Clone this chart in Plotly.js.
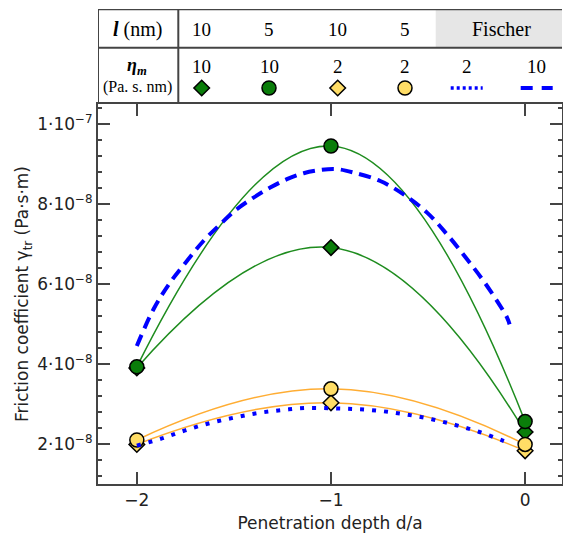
<!DOCTYPE html>
<html>
<head>
<meta charset="utf-8">
<script src="https://cdn.plot.ly/plotly-3.0.1.min.js"></script>
<style>html,body{margin:0;padding:0;background:#fff;}#chart{width:563px;height:544px;}</style>
</head>
<body>
<div id="chart"></div>
<script>
// ---------- data ----------
const depth = [-2, -1, 0];
// friction coefficient (Pa·s·m)
const l10_eta10 = [3.90e-8, 6.91e-8, 2.30e-8];   // green diamond
const l5_eta10  = [3.93e-8, 9.45e-8, 2.56e-8];   // green circle
const l10_eta2  = [1.99e-8, 3.03e-8, 1.83e-8];   // yellow diamond
const l5_eta2   = [2.10e-8, 3.38e-8, 1.99e-8];   // yellow circle

// Fischer theory curves
const fischer10_x = [-2.0, -1.914, -1.828, -1.742, -1.657, -1.571, -1.485, -1.399, -1.313, -1.227, -1.141, -1.055, -0.969, -0.883, -0.746, -0.626, -0.505, -0.402, -0.299, -0.196, -0.093, -0.08];
const fischer10_y = [4.45e-8, 5.37e-8, 6.04e-8, 6.575e-8, 7.075e-8, 7.49e-8, 7.87e-8, 8.16e-8, 8.41e-8, 8.62e-8, 8.77e-8, 8.85e-8, 8.87e-8, 8.785e-8, 8.575e-8, 8.24e-8, 7.785e-8, 7.24e-8, 6.62e-8, 5.95e-8, 5.16e-8, 4.99e-8];
const fischer2_x = [-2.0, -1.871, -1.751, -1.626, -1.499, -1.374, -1.250, -1.124, -0.987, -0.864, -0.735, -0.609, -0.481, -0.355, -0.235, -0.115, -0.08];
const fischer2_y = [1.96e-8, 2.14e-8, 2.34e-8, 2.52e-8, 2.66e-8, 2.775e-8, 2.85e-8, 2.90e-8, 2.89e-8, 2.87e-8, 2.82e-8, 2.735e-8, 2.62e-8, 2.47e-8, 2.30e-8, 2.085e-8, 2.02e-8];

// tick labels
const xTickVals = [-2, -1, 0];
const xTickText = ['\u22122', '\u22121', '0'];
const yTickVals = [2e-8, 4e-8, 6e-8, 8e-8, 1e-7];
const yTickText = ['2\u00b710<sup>\u22128</sup>', '4\u00b710<sup>\u22128</sup>', '6\u00b710<sup>\u22128</sup>', '8\u00b710<sup>\u22128</sup>', '1\u00b710<sup>\u22127</sup>'];

// table contents
const rowLabel1 = '<b><i>l</i></b> (nm)';
const rowLabel2a = '<b><i>\u03b7<sub>m</sub></i></b>';
const rowLabel2b = '(Pa. s. nm)';
const lValues = ['10', '5', '10', '5'];
const fischerLabel = 'Fischer';
const etaValues = ['10', '10', '2', '2', '2', '10'];

// ---------- styles / layout constants ----------
const GREEN = '#0a7d0a', GREEN_LINE = '#1e8c1e';
const YELLOW = '#ffdd66', ORANGE_LINE = '#ffad33';
const BLUE = '#0000ff';
const FRAME = '#444444';
const SANS = 'DejaVu Sans, sans-serif';
const SERIF = 'Liberation Serif, serif';

// table geometry in pixels (x2 / y2 axes are pixel based)
const colX = [201.7, 269, 337.7, 405, 466.7, 536.7];
const hdrX = 137;
const row1Y = 29, row2Y = 66, row2bY = 87, symY = 88;

function seriesTrace(y, symbol, fill, lineColor, size) {
  return {
    x: depth, y: y, type: 'scatter', mode: 'lines+markers',
    line: {color: lineColor, width: 1.5, shape: 'spline', smoothing: 1.3},
    marker: {symbol: symbol, size: size, color: fill, line: {color: '#000', width: 1.5}},
    hoverinfo: 'skip', showlegend: false
  };
}
function keyMarker(cx, symbol, fill, size) {
  return {
    x: [cx], y: [symY], xaxis: 'x2', yaxis: 'y2', type: 'scatter', mode: 'markers',
    marker: {symbol: symbol, size: size, color: fill, line: {color: '#000', width: 1.5}},
    hoverinfo: 'skip', showlegend: false, cliponaxis: false
  };
}
function keyLine(cx, dash, w) {
  return {
    x: [cx - 16, cx + 16], y: [symY, symY], xaxis: 'x2', yaxis: 'y2', type: 'scatter', mode: 'lines',
    line: {color: BLUE, width: w, dash: dash},
    hoverinfo: 'skip', showlegend: false, cliponaxis: false
  };
}

const DASH_LONG = '12px,7px';
const DASH_DOT = '4px,8px';

const traces = [
  seriesTrace(l10_eta10, 'diamond', GREEN, GREEN_LINE, 12),
  seriesTrace(l5_eta10, 'circle', GREEN, GREEN_LINE, 14),
  seriesTrace(l10_eta2, 'diamond', YELLOW, ORANGE_LINE, 12),
  seriesTrace(l5_eta2, 'circle', YELLOW, ORANGE_LINE, 14),
  {x: fischer2_x, y: fischer2_y, type: 'scatter', mode: 'lines',
   line: {color: BLUE, width: 4, dash: DASH_DOT, shape: 'spline'}, hoverinfo: 'skip', showlegend: false},
  {x: fischer10_x, y: fischer10_y, type: 'scatter', mode: 'lines',
   line: {color: BLUE, width: 4, dash: DASH_LONG, shape: 'spline'}, hoverinfo: 'skip', showlegend: false},
  keyMarker(colX[0], 'diamond', GREEN, 12),
  keyMarker(colX[1], 'circle', GREEN, 14),
  keyMarker(colX[2], 'diamond', YELLOW, 12),
  keyMarker(colX[3], 'circle', YELLOW, 14),
  keyLine(colX[4], '3px,3px', 3.5),
  keyLine(colX[5], '12px,9px', 4)
];

const annotations = [];
function tableText(x, y, text, size) {
  annotations.push({x: x, y: y, xref: 'x2', yref: 'y2', text: text, showarrow: false,
    font: {family: SERIF, size: size, color: '#000'}, xanchor: 'center', yanchor: 'middle'});
}
tableText(hdrX, row1Y, rowLabel1, 20);
tableText(hdrX, row2Y, rowLabel2a, 18);
tableText(hdrX, row2bY, rowLabel2b, 16);
lValues.forEach((t, i) => tableText(colX[i], row1Y, t, 19));
tableText((colX[4] + colX[5]) / 2, row1Y, fischerLabel, 20);
etaValues.forEach((t, i) => tableText(colX[i], row2Y, t, 19));

const shapes = [
  // Fischer header background
  {type: 'rect', xref: 'x2', yref: 'y2', x0: 435.7, x1: 563, y0: 9, y1: 47.7, fillcolor: '#e6e6e6', line: {width: 0}, layer: 'below'},
  // table lines
  {type: 'line', xref: 'x2', yref: 'y2', x0: 97, x1: 563, y0: 9.3, y1: 9.3, line: {color: FRAME, width: 2}},
  {type: 'line', xref: 'x2', yref: 'y2', x0: 97, x1: 563, y0: 47.7, y1: 47.7, line: {color: FRAME, width: 2}},
  {type: 'line', xref: 'x2', yref: 'y2', x0: 98, x1: 98, y0: 8.3, y1: 104, line: {color: FRAME, width: 2}},
  {type: 'line', xref: 'x2', yref: 'y2', x0: 178.3, x1: 178.3, y0: 8.3, y1: 104, line: {color: FRAME, width: 2}}
];

const layout = {
  width: 563, height: 544,
  margin: {l: 98, r: 1, t: 9, b: 60},
  paper_bgcolor: '#ffffff', plot_bgcolor: '#ffffff',
  showlegend: false,
  xaxis: {
    domain: [0, 1], anchor: 'y', range: [-2.2, 0.19],
    tickvals: xTickVals, ticktext: xTickText,
    ticks: 'inside', ticklen: 12, tickwidth: 2, tickcolor: FRAME,
    showline: true, linecolor: FRAME, linewidth: 2, mirror: 'ticks',
    showgrid: false, zeroline: false,
    tickfont: {family: SANS, size: 17, color: '#222'},
    title: {text: 'Penetration depth d/a', font: {family: SANS, size: 17, color: '#222'}, standoff: 8}
  },
  yaxis: {
    domain: [0, 0.8], anchor: 'x', range: [1.0e-8, 1.05e-7],
    tickvals: yTickVals, ticktext: yTickText,
    ticks: 'inside', ticklen: 12, tickwidth: 2, tickcolor: FRAME,
    minor: {tickmode: 'linear', tick0: 0, dtick: 4e-9, ticks: 'inside', ticklen: 4, tickwidth: 2, tickcolor: FRAME},
    showline: true, linecolor: FRAME, linewidth: 2, mirror: 'ticks',
    showgrid: false, zeroline: false,
    tickfont: {family: SANS, size: 17, color: '#222'},
    title: {text: 'Friction coefficient \u03b3<sub>tr</sub> (Pa\u00b7s\u00b7m)', font: {family: SANS, size: 17, color: '#222'}, standoff: 4}
  },
  xaxis2: {domain: [0, 1], anchor: 'y2', range: [98, 562], visible: false, fixedrange: true},
  yaxis2: {domain: [0.8, 1], anchor: 'x2', range: [104, 9], visible: false, fixedrange: true},
  annotations: annotations,
  shapes: shapes
};

Plotly.newPlot('chart', traces, layout, {staticPlot: true, displayModeBar: false});
</script>
</body>
</html>
